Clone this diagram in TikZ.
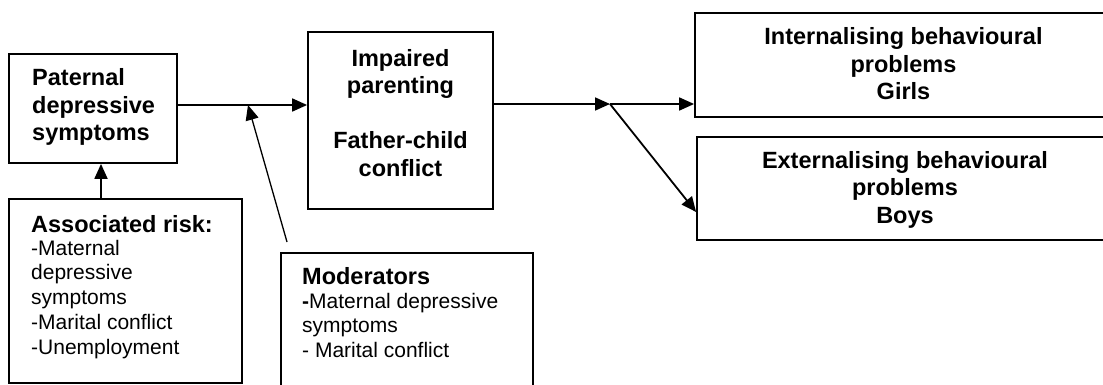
\documentclass[tikz,border=0pt]{standalone}
\usepackage{fontspec}
\setmainfont{Liberation Sans}
\usetikzlibrary{arrows.meta}
\begin{document}
\begin{tikzpicture}[x=1pt,y=-1pt,
  box/.style={draw, line width=1.8pt, inner sep=0pt},
  head/.style={font=\fontsize{23.5}{27.5}\selectfont\bfseries, inner sep=0pt},
  item/.style={font=\fontsize{21}{24.5}\selectfont, inner sep=0pt, align=left, anchor=base west},
  arr/.style={line width=1.8pt, -{Triangle[length=15pt,width=13pt]}},
  thin arr/.style={line width=1.3pt, -{Triangle[length=15pt,width=13pt]}}
]
\useasboundingbox (0,0) rectangle (1103,385);
\clip (0,0) rectangle (1103,385);

% boxes
\node[box, minimum width=168pt, minimum height=109pt] (pat)  at (93,108.5)  {};
\node[box, minimum width=185pt, minimum height=177pt] (imp)  at (400.5,120.5) {};
\node[box, minimum width=418pt, minimum height=104pt] (int)  at (904,65)   {};
\node[box, minimum width=418pt, minimum height=103pt] (ext)  at (906,188.5) {};
\node[box, minimum width=233pt, minimum height=184pt] (risk) at (125.5,291) {};
\node[box, minimum width=252pt, minimum height=150pt] (mod)  at (407,328)  {};

% box texts (multi-line nodes are anchored at the baseline of their last line)
\node[head, align=left, anchor=base west] (patT) at (32,141)
  {Paternal\\depressive\\symptoms};
\node[head, align=center, anchor=base] (impT) at (400.5,176)
  {Impaired\\parenting\\[27.5pt]Father-child\\conflict};
\node[head, align=center, anchor=base] (intT) at (903.5,100)
  {Internalising behavioural\\problems\\Girls};
\node[head, align=center, anchor=base] (extT) at (905,223)
  {Externalising behavioural\\problems\\Boys};
\node[head, anchor=base west] (riskH) at (31,232) {Associated risk:};
\node[item, font=\fontsize{21}{24.75}\selectfont] (riskT) at (31,354)
  {-Maternal\\depressive\\symptoms\\-Marital conflict\\-Unemployment};
\node[head, anchor=base west] (modH) at (302,284) {Moderators};
\node[item, font=\fontsize{21}{24.3}\selectfont] (modT) at (302,357)
  {{\bfseries -}Maternal depressive\\symptoms\\- Marital conflict};

% junctions and free ends
\coordinate (j1) at (248,105);
\coordinate (j2) at (610,104);
\coordinate (m0) at (287,242);
\coordinate (rx) at (101,0);

% connectors
\draw[line width=1.8pt] (j1 -| pat.east) -- (j1);
\draw[arr] (j1) -- (j1 -| imp.west);
\draw[thin arr] (m0) -- (j1);
\draw[arr] (rx |- risk.north) -- (rx |- pat.south);
\draw[arr] (j2 -| imp.east) -- (j2);
\draw[arr] (j2) -- (j2 -| int.west);
\draw[arr] (j2) -- (ext.west |- 0,212);
\end{tikzpicture}
\end{document}
